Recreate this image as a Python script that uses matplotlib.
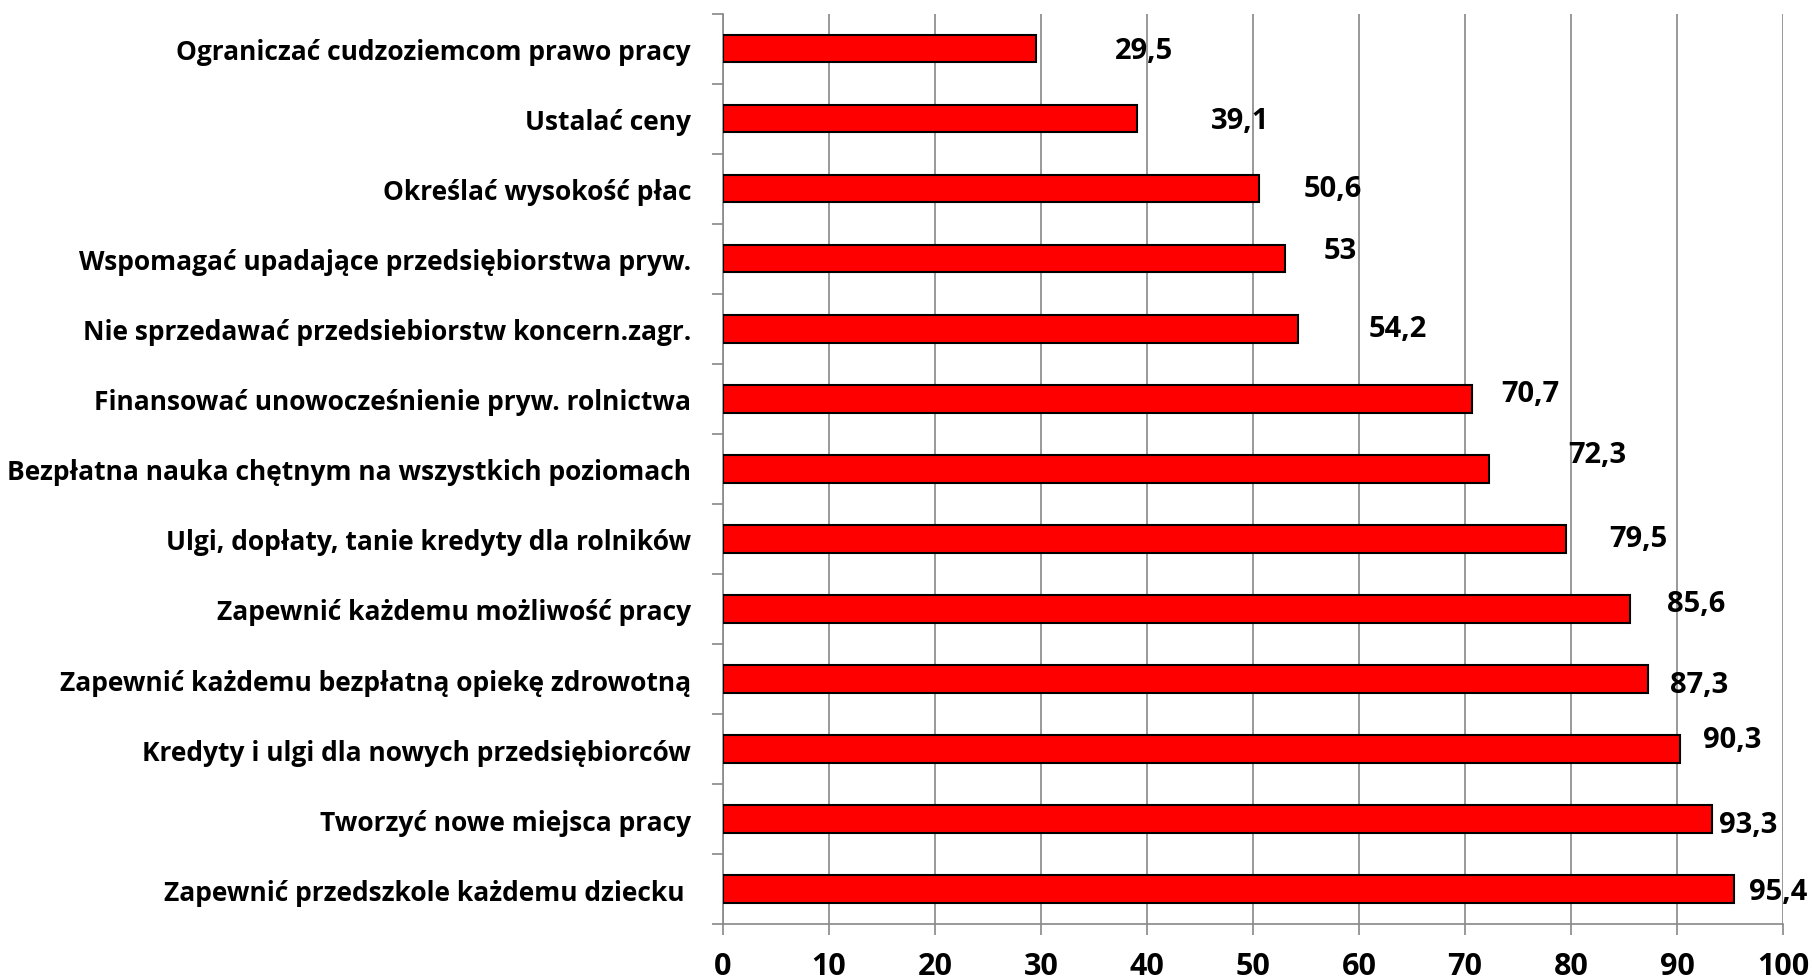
import matplotlib
matplotlib.use("Agg")
import matplotlib.pyplot as plt
import numpy as np

categories = [
    "Ograniczać cudzoziemcom prawo pracy",
    "Ustalać ceny",
    "Określać wysokość płac",
    "Wspomagać upadające przedsiębiorstwa pryw.",
    "Nie sprzedawać przedsiebiorstw koncern.zagr.",
    "Finansować unowocześnienie pryw. rolnictwa",
    "Bezpłatna nauka chętnym na wszystkich poziomach",
    "Ulgi, dopłaty, tanie kredyty dla rolników",
    "Zapewnić każdemu możliwość pracy",
    "Zapewnić każdemu bezpłatną opiekę zdrowotną",
    "Kredyty i ulgi dla nowych przedsiębiorców",
    "Tworzyć nowe miejsca pracy",
    "Zapewnić przedszkole każdemu dziecku ",
]
values = [29.5, 39.1, 50.6, 53, 54.2, 70.7, 72.3, 79.5, 85.6, 87.3, 90.3, 93.3, 95.4]
value_labels = ["29,5", "39,1", "50,6", "53", "54,2", "70,7", "72,3", "79,5",
                "85,6", "87,3", "90,3", "93,3", "95,4"]
xticks = [0, 10, 20, 30, 40, 50, 60, 70, 80, 90, 100]

# label offsets (style/positioning, in data units)
label_dx = [10.2, 9.7, 6.9, 5.2, 9.5, 5.5, 10.2, 6.9, 6.2, 4.8, 4.9, 3.4, 4.1]
label_dy = [0.03, 0.03, 0.0, -0.12, 0.0, -0.08, -0.2, 0.0, -0.08, 0.08, -0.13, 0.08, 0.03]

FONT = "Open Sans"
fig = plt.figure(figsize=(18.12, 9.79), dpi=100)
ax = fig.add_axes([0.399, 0.055, 0.585, 0.930])

y = np.arange(len(categories))
ax.barh(y, values, height=0.39, color="#FF0000", edgecolor="black", linewidth=1.5, zorder=3)

ax.set_xlim(0, 100)
ax.set_ylim(len(categories) - 0.5, -0.5)
ax.set_xticks(xticks)
ax.set_xticklabels([str(t) for t in xticks], fontsize=22, fontweight="bold", family=FONT)
ax.set_yticks(y)
ax.set_yticklabels(categories, fontsize=19, fontweight="bold", family=FONT)
ax.set_yticks(np.arange(-0.5, len(categories)), minor=True)
ax.tick_params(axis="y", which="major", length=0, pad=23)
ax.tick_params(axis="y", which="minor", length=8, color="#888888", width=1.2)
ax.tick_params(axis="x", which="major", length=8, color="#888888", width=1.2, pad=11)

ax.grid(axis="x", color="#888888", linewidth=1.2, zorder=0)
for s in ["top", "right"]:
    ax.spines[s].set_visible(False)
for s in ["left", "bottom"]:
    ax.spines[s].set_color("#888888")
    ax.spines[s].set_linewidth(1.2)

for i, (v, lab) in enumerate(zip(values, value_labels)):
    ax.text(v + label_dx[i], i + label_dy[i], lab, ha="center", va="center",
            fontsize=21, fontweight="bold", family=FONT, zorder=4)

fig.savefig("out.png", dpi=100)
